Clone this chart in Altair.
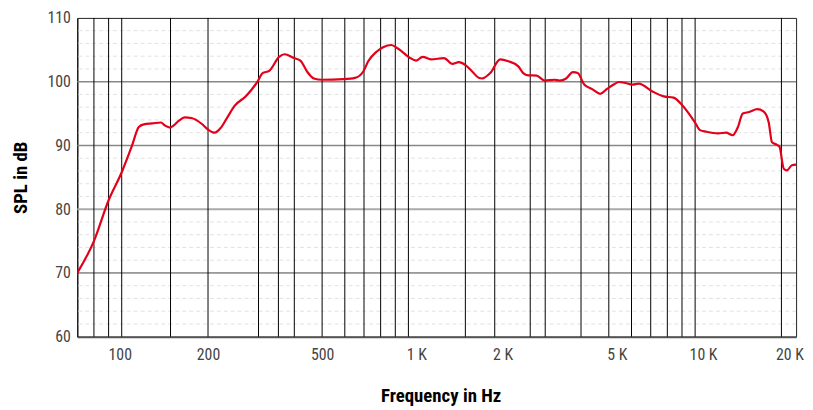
import altair as alt
import pandas as pd

# ---- data ----
freq_hz = [70, 80, 90, 100, 108.7, 114.7, 119.4, 128, 137, 141.7, 147.5, 151.5, 158, 166, 175,
           190, 200, 211, 222, 235, 247.5, 271, 298, 310, 327, 354, 370, 399, 420, 443, 468,
           500, 594, 651, 696, 724, 774, 816, 871, 919, 1008, 1063, 1121, 1198, 1331, 1424,
           1500, 1582, 1669, 1759, 1807, 1929, 2090, 2231, 2417, 2515, 2617, 2798, 2989,
           3235, 3364, 3549, 3744, 3897, 4104, 4389, 4664, 4943, 5203, 5425, 5720, 6036,
           6360, 7074, 7763, 8404, 8986, 9996, 10401, 10956, 12025, 12825, 13525, 14079,
           14664, 15437, 16462, 17357, 18061, 18540, 19290, 19690, 20380, 20910, 21750, 22500]
spl_db = [70.0, 75.0, 81.4, 85.8, 90.0, 92.9, 93.3, 93.45, 93.6, 93.1, 92.8, 93.1, 93.85, 94.4, 94.3,
          93.4, 92.5, 92.0, 92.8, 94.6, 96.2, 97.7, 100.06, 101.35, 101.7, 103.9, 104.3, 103.7, 103.3, 101.6, 100.5,
          100.3, 100.4, 100.6, 101.6, 103.2, 104.7, 105.4, 105.75, 105.2, 103.8, 103.3, 103.9, 103.5, 103.7, 102.8,
          103.06, 102.6, 101.6, 100.6, 100.5, 101.35, 103.5, 103.2, 102.4, 101.35, 101.0, 100.95, 100.17,
          100.3, 100.17, 100.5, 101.5, 101.35, 99.55, 98.8, 98.1, 98.9, 99.55, 99.95, 99.8, 99.55,
          99.7, 98.5, 97.7, 97.5, 96.4, 93.6, 92.4, 92.15, 91.9, 92.0, 91.6, 92.8,
          95.0, 95.25, 95.7, 95.3, 93.6, 90.5, 90.1, 89.8, 86.35, 86.1, 86.9, 87.0]

vertical_lines_hz = [80, 90, 100, 148, 200, 300, 352, 400, 500, 600, 700, 800, 900, 1000,
                     1580, 2000, 2660, 3000, 4000, 5000, 6000, 7000, 8000, 9000, 10000, 20000]
x_tick_values = [100, 200, 500, 1000, 2000, 5000, 10000, 20000]
y_tick_values = [60, 70, 80, 90, 100, 110]
minor_db = [62, 64, 66, 68, 72, 74, 76, 78, 82, 84, 86, 88, 92, 94, 96, 98, 102, 104, 106, 108]
line_70 = [70]
line_80 = [80]
line_90_100 = [90, 100]

curve = pd.DataFrame({"f": freq_hz, "spl": spl_db})
vdf = pd.DataFrame({"f": vertical_lines_hz})

FONT = "Roboto Condensed, DejaVu Sans Condensed, Liberation Sans Narrow, Roboto, sans-serif"
W, H = 726, 322

xscale = alt.Scale(type="log", domain=[70, 22500], nice=False)
yscale = alt.Scale(domain=[60, 110], nice=False, zero=False)

xaxis = alt.Axis(
    values=x_tick_values,
    labelExpr="datum.value >= 1000 ? (datum.value / 1000) + ' K' : datum.label",
    grid=False, ticks=False, domain=True, domainColor="#555555", domainWidth=2,
    labelFont=FONT, labelFontSize=16, labelColor="#444444", labelPadding=10,
    labelOffset={"condition": [{"test": "datum.value >= 1000", "value": 8},
                               {"test": "datum.value == 100", "value": -2}], "value": 0},
    labelFlush=False, labelOverlap=False,
    title="Frequency in Hz", titleFont=FONT, titleFontSize=19, titleFontWeight="bold",
    titleColor="#000000", titleX=W / 2 + 4, titleY=65, titleAlign="center", titleBaseline="alphabetic",
)
yaxis = alt.Axis(
    values=y_tick_values, grid=False, ticks=False, domain=True, domainColor="#000000", domainWidth=1,
    labelFont=FONT, labelFontSize=16, labelColor="#444444", labelPadding=7,
    title="SPL in dB", titleFont=FONT, titleFontSize=19, titleFontWeight="bold",
    titleColor="#000000", titleAngle=270, titleX=-51.5, titleY=161, titleAlign="center",
    titleBaseline="alphabetic",
)

minor = alt.Chart(pd.DataFrame({"v": minor_db})).mark_rule(
    color="#e2e2e2", strokeWidth=1, strokeDash=[4, 3]
).encode(y=alt.Y("v:Q", scale=yscale, axis=yaxis))

h70 = alt.Chart(pd.DataFrame({"v": line_70})).mark_rule(color="#444444", strokeWidth=1).encode(
    y=alt.Y("v:Q", scale=yscale, axis=yaxis))
h80 = alt.Chart(pd.DataFrame({"v": line_80})).mark_rule(color="#aaaaaa", strokeWidth=2).encode(
    y=alt.Y("v:Q", scale=yscale, axis=yaxis))
h90 = alt.Chart(pd.DataFrame({"v": line_90_100})).mark_rule(color="#888888", strokeWidth=1.6).encode(
    y=alt.Y("v:Q", scale=yscale, axis=yaxis))

vlines = alt.Chart(vdf).mark_rule(color="#000000", strokeWidth=1).encode(
    x=alt.X("f:Q", scale=xscale, axis=xaxis))

line = alt.Chart(curve).mark_line(color="#e2001a", strokeWidth=2.2, interpolate="monotone", clip=True).encode(
    x=alt.X("f:Q", scale=xscale, axis=xaxis),
    y=alt.Y("spl:Q", scale=yscale, axis=yaxis),
)

chart = alt.layer(minor, h80, h90, h70, vlines, line).properties(
    width=W, height=H,
    autosize=alt.AutoSizeParams(type="none"),
    padding={"left": 70, "top": 8, "right": 9, "bottom": 72},
    background="white",
).configure_view(stroke="#222222", strokeWidth=1)

chart.save("out.html", embed_options={"renderer": "svg", "actions": False})
